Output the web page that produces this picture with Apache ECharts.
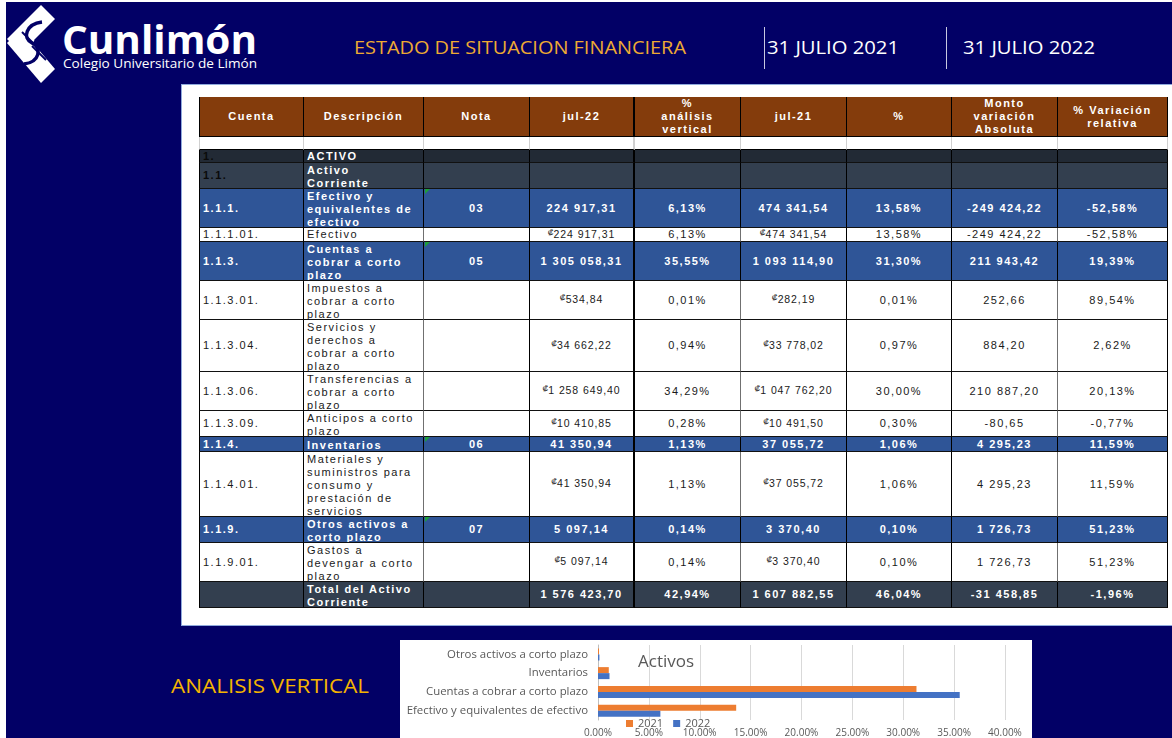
<!DOCTYPE html>
<html>
<head>
<meta charset="utf-8">
<script src="https://cdn.jsdelivr.net/npm/echarts@6/dist/echarts.min.js"></script>
<style>
  html, body { margin: 0; padding: 0; }
  body { width: 1172px; height: 738px; position: relative; overflow: hidden; background: #fff; }
  .navy { position: absolute; left: 6px; top: 2px; right: 0; bottom: 0; background: #020066; }
  .abs { position: absolute; white-space: nowrap; }
  .gold { color: #eeaa33; font-family: 'Open Sans', sans-serif; }
  .date { color: #fff; font-family: 'Open Sans', sans-serif; font-size: 19px; }
  .sep { position: absolute; width: 1px; background: #c8c8e0; top: 27px; height: 42px; }
  .panel { position: absolute; left: 181px; top: 84px; width: 1000px; height: 540px; background: #fff;
           border-left: 1px solid #8faadc; border-bottom: 1px solid #8faadc; border-top: 1px solid #8faadc; }
  .cell { position: absolute; box-sizing: border-box; overflow: hidden; display: flex; align-items: center;
          font-family: 'Liberation Sans', Arial, sans-serif; font-size: 11px; letter-spacing: 1.5px; line-height: 13px; }
  .cell span { display: block; white-space: pre; }
  .cur { display: inline !important; font-size: 8px; position: relative; top: -3px; letter-spacing: 0; }
  .num { font-size: 10.5px; letter-spacing: 0.9px; }
  .flag { position: absolute; width: 0; height: 0; border-top: 5px solid #1f9e3a; border-right: 5px solid transparent; }
  #chart { position: absolute; left: 400px; top: 640px; width: 632px; height: 98px; background: #fff; }
</style>
</head>
<body>
<div class="navy"></div>

<svg class="abs" style="left:2px;top:2px" width="62" height="84" viewBox="0 0 62 84">
  <polygon fill="#fff" points="5,37 39,3 53,17 19,51"/>
  <polygon fill="#fff" points="5,41 19,27 53,67 39,81"/>
  <path d="M40 20 C 24 22, 20 36, 30 41 C 40 46, 38 60, 22 62" fill="none" stroke="#020066" stroke-width="3.5"/>
  <path d="M36 26 C 27 28, 26 36, 32 39" fill="none" stroke="#fff" stroke-width="2"/>
  <line x1="20" y1="30" x2="32" y2="42" stroke="#020066" stroke-width="2"/>
  <line x1="30" y1="44" x2="44" y2="58" stroke="#020066" stroke-width="2"/>
</svg>
<div class="abs fit" data-w="195" style="left:62px;top:22px;color:#fff;font-family:'Open Sans',sans-serif;font-weight:700;font-size:40px;line-height:34px;">Cunlimón</div>
<div class="abs fit" data-w="194" style="left:63px;top:57px;color:#fff;font-family:'Open Sans',sans-serif;font-size:13px;line-height:13px;">Colegio Universitario de Limón</div>

<div class="abs gold fit" data-w="332" style="left:354px;top:33px;font-size:19px;line-height:28px;">ESTADO DE SITUACION FINANCIERA</div>
<div class="sep" style="left:764px"></div>
<div class="abs date fit" data-w="132" style="left:767px;top:33px;line-height:28px;">31 JULIO 2021</div>
<div class="sep" style="left:946px"></div>
<div class="abs date fit" data-w="132" style="left:963px;top:33px;line-height:28px;">31 JULIO 2022</div>

<div class="panel"></div>
<div id="tbl"></div>

<div class="abs gold fit" data-w="198" style="left:171px;top:671px;font-size:20px;line-height:30px;color:#f4b400;">ANALISIS VERTICAL</div>

<div id="chart"></div>

<script>
// ---- table data ----
const headers = ['Cuenta', 'Descripción', 'Nota', 'jul-22', '%\nanálisis\nvertical', 'jul-21', '%', 'Monto\nvariación\nAbsoluta', '% Variación\nrelativa'];
const cuentas = ['', '1.', '1.1.', '1.1.1.', '1.1.1.01.', '1.1.3.', '1.1.3.01.', '1.1.3.04.', '1.1.3.06.', '1.1.3.09.', '1.1.4.', '1.1.4.01.', '1.1.9.', '1.1.9.01.', ''];
const descripciones = ['', 'ACTIVO', 'Activo\nCorriente', 'Efectivo y\nequivalentes de\nefectivo', 'Efectivo', 'Cuentas a\ncobrar a corto\nplazo',
  'Impuestos a\ncobrar a corto\nplazo', 'Servicios y\nderechos a\ncobrar a corto\nplazo', 'Transferencias a\ncobrar a corto\nplazo',
  'Anticipos a corto\nplazo', 'Inventarios', 'Materiales y\nsuministros para\nconsumo y\nprestación de\nservicios',
  'Otros activos a\ncorto plazo', 'Gastos a\ndevengar a corto\nplazo', 'Total del Activo\nCorriente'];
const notas = ['', '', '', '03', '', '05', '', '', '', '', '06', '', '07', '', ''];
const jul22 = ['', '', '', '224 917,31', '₡224 917,31', '1 305 058,31', '₡534,84', '₡34 662,22', '₡1 258 649,40', '₡10 410,85', '41 350,94', '₡41 350,94', '5 097,14', '₡5 097,14', '1 576 423,70'];
const pctVertical22 = ['', '', '', '6,13%', '6,13%', '35,55%', '0,01%', '0,94%', '34,29%', '0,28%', '1,13%', '1,13%', '0,14%', '0,14%', '42,94%'];
const jul21 = ['', '', '', '474 341,54', '₡474 341,54', '1 093 114,90', '₡282,19', '₡33 778,02', '₡1 047 762,20', '₡10 491,50', '37 055,72', '₡37 055,72', '3 370,40', '₡3 370,40', '1 607 882,55'];
const pct21 = ['', '', '', '13,58%', '13,58%', '31,30%', '0,01%', '0,97%', '30,00%', '0,30%', '1,06%', '1,06%', '0,10%', '0,10%', '46,04%'];
const variacionAbs = ['', '', '', '-249 424,22', '-249 424,22', '211 943,42', '252,66', '884,20', '210 887,20', '-80,65', '4 295,23', '4 295,23', '1 726,73', '1 726,73', '-31 458,85'];
const variacionRel = ['', '', '', '-52,58%', '-52,58%', '19,39%', '89,54%', '2,62%', '20,13%', '-0,77%', '11,59%', '11,59%', '51,23%', '51,23%', '-1,96%'];
const rowTypes = ['blank', 'dark1', 'dark2', 'blue', 'white', 'blue', 'white', 'white', 'white', 'white', 'blue', 'white', 'blue', 'white', 'dark2'];

// ---- chart data ----
const categories = ['Efectivo y equivalentes de efectivo', 'Cuentas a cobrar a corto plazo', 'Inventarios', 'Otros activos a corto plazo'];
const pct2021 = [13.58, 31.30, 1.06, 0.10];
const pct2022 = [6.13, 35.55, 1.13, 0.14];
const xMin = 0, xMax = 40, xStep = 5;

// ---- table layout ----
const colX = [199, 304, 424, 530, 635, 741, 847, 952, 1058, 1168];
const headerH = 40;
const rowH = [13, 13, 26, 39, 14, 39, 39, 52, 39, 26, 15, 65, 26, 39, 26];
const bg = { blank: '#fff', dark1: '#222a35', dark2: '#333f4f', blue: '#2f5597', white: '#fff', head: '#843c0c' };

const tbl = document.getElementById('tbl');

function addCell(x, y, w, h, text, opts) {
  const d = document.createElement('div');
  d.className = 'cell';
  d.style.left = x + 'px'; d.style.top = y + 'px';
  d.style.width = w + 'px'; d.style.height = h + 'px';
  d.style.background = opts.bg;
  d.style.borderRight = (opts.rw || 1) + 'px solid ' + (opts.line || '#000');
  d.style.borderBottom = '1px solid ' + (opts.hline || '#000');
  if (opts.first) d.style.borderLeft = '1px solid ' + (opts.line || '#000');
  d.style.justifyContent = opts.left ? 'flex-start' : 'center';
  d.style.paddingLeft = opts.left ? '3px' : '0';
  d.style.color = opts.color;
  d.style.fontWeight = opts.bold ? '700' : '400';
  const s = document.createElement('span');
  s.style.textAlign = opts.left ? 'left' : 'center';
  if (text.startsWith('₡')) {
    s.className = 'num';
    const c = document.createElement('span');
    c.className = 'cur'; c.textContent = '₡';
    s.appendChild(c);
    s.appendChild(document.createTextNode(text.slice(1)));
  } else {
    s.textContent = text;
  }
  if (opts.pad) s.style.paddingTop = opts.pad + 'px';
  d.appendChild(s);
  tbl.appendChild(d);
}

// header
for (let c = 0; c < 9; c++) {
  addCell(colX[c], 97, colX[c + 1] - colX[c], headerH, headers[c],
    { bg: bg.head, color: '#fff', bold: true, first: c === 0, line: '#000', rw: c === 3 ? 2 : 1 });
}
// body
let y = 97 + headerH;
for (let r = 0; r < rowTypes.length; r++) {
  const t = rowTypes[r];
  const vals = [cuentas[r], descripciones[r], notas[r], jul22[r], pctVertical22[r], jul21[r], pct21[r], variacionAbs[r], variacionRel[r]];
  for (let c = 0; c < 9; c++) {
    const light = t === 'white' || t === 'blank';
    let color = light ? '#1a1a1a' : '#fff';
    if ((t === 'dark1' || t === 'dark2') && c === 0) color = '#0a0a0a';
    addCell(colX[c], y, colX[c + 1] - colX[c], rowH[r], vals[c], {
      bg: bg[t], color: color, bold: !light, first: c === 0,
      left: c < 2,
      line: t === 'blank' ? '#d0d0d0' : (light && (c === 4 || c === 7 || c === 1) ? '#707070' : '#000'),
      hline: t === 'blank' ? '#000' : '#111',
      rw: c === 3 ? 2 : 1,
      pad: c === 1 && rowH[r] > 14 ? 2 : 0
    });
  }
  if (t === 'blue') {
    const f = document.createElement('div');
    f.className = 'flag';
    f.style.left = (colX[2] + 1) + 'px'; f.style.top = y + 'px';
    tbl.appendChild(f);
  }
  y += rowH[r];
}

// stretch headline texts to their widths in the picture
document.querySelectorAll('.fit').forEach(el => {
  const w = el.getBoundingClientRect().width;
  const target = +el.dataset.w;
  el.style.transformOrigin = 'left center';
  el.style.transform = 'scaleX(' + (target / w) + ')';
});

// ---- chart ----
const chart = echarts.init(document.getElementById('chart'));
chart.setOption({
  animation: false,
  backgroundColor: '#fff',
  title: {
    text: 'Activos', left: 233, top: 9,
    textStyle: { color: '#595959', fontSize: 17, fontWeight: 'normal', fontFamily: 'Open Sans' }
  },
  legend: {
    data: ['2021', '2022'], left: 226, top: 78, icon: 'rect', itemWidth: 7, itemHeight: 7, itemGap: 10,
    textStyle: { color: '#595959', fontSize: 11, fontFamily: 'Open Sans' }, padding: 0
  },
  grid: { left: 198, right: 27, top: 5, bottom: 18 },
  xAxis: {
    type: 'value', min: xMin, max: xMax, interval: xStep,
    axisLine: { show: false }, axisTick: { show: false },
    splitLine: { lineStyle: { color: '#d9d9d9' } },
    axisLabel: { color: '#595959', fontSize: 10, margin: 8, fontFamily: 'Open Sans',
      formatter: v => v.toFixed(2) + '%' }
  },
  yAxis: {
    type: 'category', data: categories,
    axisLine: { lineStyle: { color: '#bfbfbf' } }, axisTick: { show: false },
    axisLabel: { color: '#595959', fontSize: 11.4, margin: 10, fontFamily: 'Open Sans' }
  },
  series: [
    { name: '2021', type: 'bar', data: pct2021, barWidth: 6, barGap: '0%', itemStyle: { color: '#ed7d31' } },
    { name: '2022', type: 'bar', data: pct2022, barWidth: 6, barGap: '0%', itemStyle: { color: '#4472c4' } }
  ]
});
</script>
</body>
</html>
